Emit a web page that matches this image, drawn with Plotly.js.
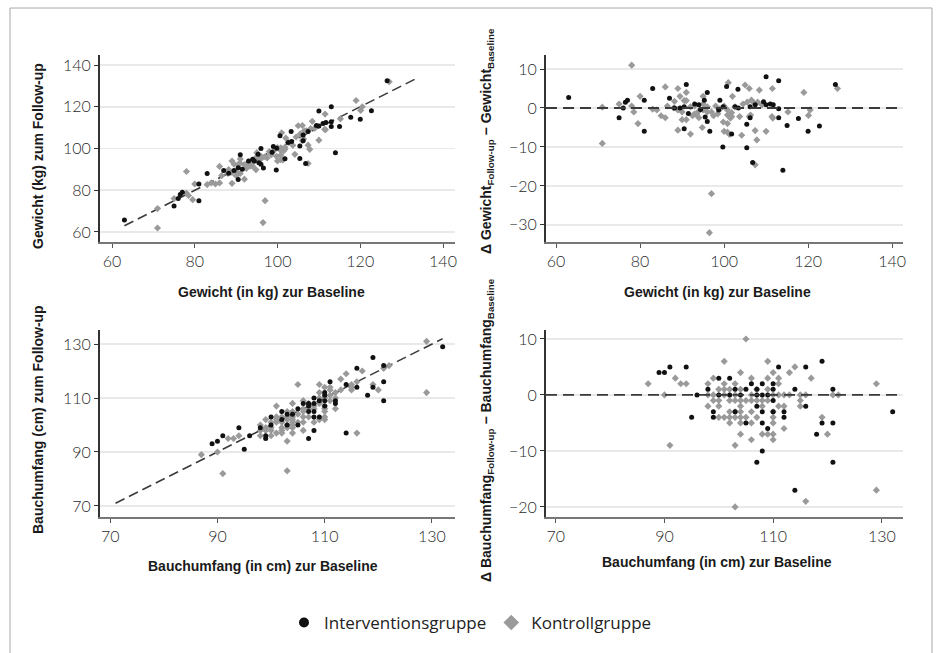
<!DOCTYPE html>
<html>
<head>
<meta charset="utf-8">
<script src="https://cdn.plot.ly/plotly-3.0.1.min.js"></script>
<style>html,body{margin:0;padding:0;background:#fff;}#chart{width:941px;height:653px;}</style>
</head>
<body>
<div id="chart"></div>
<script>
// ---- Gewicht (kg): Interventionsgruppe ----
const wIntBase = [63,75,76.5,77,76,81,81,83,87,88.2,91,89.5,90.5,90.5,91.5,93,94,94.4,95.3,96,95.5,96,96.6,99,99.7,98.7,100.6,103.3,110,113,126.5,102.6,103.4,106.2,107.4,109.4,110,111,111.7,113,105.4,101.8,105.4,106.8,114,113,115,117.7,120,122.7,106.2,99.8];
const wIntFU = [65.7,72.5,78,79,76,83,75,88,89.5,88.2,97,89.5,90.8,85.2,90.1,94,94.8,94,97.3,100,93.2,92.5,90.6,101,89.7,98.2,106.1,108.1,118,120,132.5,102.9,103.4,106.5,108.2,111,110.8,112,112.5,112.8,101.2,95.1,95.2,92.8,98,110.5,110.5,115,114,118.1,103.7,100.1];
const wIntDelta = [2.7,-2.5,1.5,2,0,2,-6,5,2.5,0,6,0,0.3,-5.3,-1.4,1,0.8,-0.4,2,4,-2.3,-3.5,-6,2,-10,-0.5,5.5,4.8,8,7,6,0.3,0,0.3,0.8,1.6,0.8,1,0.8,-0.2,-4.2,-6.7,-10.2,-14,-16,-2.5,-4.5,-2.7,-6,-4.6,-2.5,0.3];
// ---- Gewicht (kg): Kontrollgruppe ----
const wKonBase = [78,71,71,75,78,78.5,80,79.5,83,84,86,85,86,86.5,88.2,89,89.5,91,90.5,91,90,91,89,92,92.5,93.5,95,94.8,97,96.5,99.8,100,101,102,105,106,108.4,111.5,119,127,100.8,101.8,102.6,104.5,105.5,106.5,107,108,109,100.8,101.5,101.8,103.7,106,106.3,111.4,111.6,100.8,100.8,101.3,104.2,107.4,107.8,110,107.4,115.2,120.1,120.5,88,89,90,92,93,94,95,96,97,97.5,98,98.5,99,100,93,94,95,96];
const wKonFU = [89,61.9,71.2,76,78.5,77.5,83,75.5,82.7,83.5,91.4,83,83.5,87,89.9,94,92.5,95,92.4,92.9,87,88,83.3,85.3,90.5,91.7,98,89.8,75,64.5,96.2,94,107.5,105,110.9,111,113,116.5,123,132,100.3,100.6,102.9,105.5,107,108.5,108.5,109.5,109.8,99,98.9,99.6,101.5,103.8,104.5,109.2,109,96.8,94.6,94.5,97.2,101.6,99.6,104,92.8,114.2,118.2,120,88,88.5,89,92.3,93.5,93.2,94.5,96.3,96,95.5,98.5,97,98.7,100.5,91.5,91.5,96,95];
const wKonDelta = [11,-9.1,0.2,1,0.5,-1,3,-4,-0.3,-0.5,5.4,-2,-2.5,0.5,1.7,5,3,4,1.9,1.9,-3,-3,-5.7,-6.7,-2,-1.8,3,-5,-22,-32,-3.6,-6,6.5,3,5.9,5,4.6,5,4,5,-0.5,-1.2,0.3,1,1.5,2,1.5,1.5,0.8,-1.8,-2.6,-2.2,-2.2,-2.2,-1.8,-2.2,-2.6,-4,-6.2,-6.8,-7,-5.8,-8.2,-6,-14.6,-1,-1.9,-0.5,0,-0.5,-1,0.3,0.5,-0.8,-0.5,0.3,-1,-2,0.5,-1.5,-0.3,0.5,-1.5,-2.5,1,-1];
// ---- Bauchumfang (cm): Interventionsgruppe ----
const bIntBase = [89,90,91,94,95,96,98,99,99,100,100,102,102,103,103,104,105,105,106,107,107,107,107,108,108,108,108,108,109,109,110,110,110,110,111,112,112,114,114,116,116,118,119,119,121,121,121,132];
const bIntFU = [93,94,96,99,91,96,99,96,95,103,100,105,102,104,100,104,106,100,108,108,105,95,107,110,108,105,103,98,109,103,112,111,109,107,116,109,108,115,97,121,114,111,125,114,122,116,109,129];
const bIntDelta = [4,4,5,5,-4,0,1,-3,-4,3,0,3,0,1,-3,0,1,-5,2,1,-2,-12,0,2,0,-3,-5,-10,0,-6,2,1,-1,-3,5,-3,-4,1,-17,5,-2,-7,6,-5,1,-5,-12,-3];
// ---- Bauchumfang (cm): Kontrollgruppe ----
const bKonBase = [87,90,91,92,93,94,98,98,98,99,99,99,100,100,100,100,101,101,101,101,101,102,102,102,102,102,103,103,103,103,103,103,103,104,104,104,104,104,104,104,104,105,105,105,106,106,106,106,106,106,107,107,107,108,108,108,109,109,109,109,109,110,110,110,110,110,110,110,111,111,111,111,112,112,112,113,113,114,115,115,115,116,116,117,119,120,121,122,129,129];
const bKonFU = [89,90,82,95,95,96,100,98,96,102,99,98,101,99,98,96,107,103,102,101,97,103,101,99,98,97,105,103,102,100,99,94,83,108,105,103,102,101,100,99,97,115,104,101,109,106,105,103,101,98,108,106,103,107,106,101,115,112,110,108,102,114,110,107,106,105,103,102,114,113,111,109,112,110,106,117,113,119,115,114,113,116,97,120,115,113,121,122,131,112];
const bKonDelta = [2,0,-9,3,2,2,2,0,-2,3,0,-1,1,-1,-2,-4,6,2,1,0,-4,1,-1,-3,-4,-5,2,0,-1,-3,-4,-9,-20,4,1,-1,-2,-3,-4,-5,-7,10,-1,-4,3,0,-1,-3,-5,-8,1,-1,-4,-1,-2,-7,6,3,1,-1,-7,4,0,-3,-4,-5,-7,-8,3,2,0,-2,0,-2,-6,4,0,5,0,-1,-2,0,-19,3,-4,-7,0,0,2,-17];
// reference lines (identity y = x)
const identW = [63, 134];
const identB = [71, 132];
const legendNames = ["Interventionsgruppe", "Kontrollgruppe"];
const wTicks = [60, 80, 100, 120, 140];
const bTicks = [70, 90, 110, 130];
const dWTicks = [-30, -20, -10, 0, 10];
const dBTicks = [-20, -10, 0, 10];

const BLACK = '#111111', GRAY = '#9a9a9a';
const tickFont = {family: 'Lato, "Liberation Sans", sans-serif', size: 16, color: '#2a2a2a', weight: 300};
const titleFont = {family: '"Liberation Sans", Arial, sans-serif', size: 14, color: '#1a1a1a'};

function pts(x, y, xa, ya, grp) {
  const isInt = grp === 0;
  return {type: 'scatter', mode: 'markers', x: x, y: y, xaxis: xa, yaxis: ya, showlegend: false, hoverinfo: 'skip',
    marker: isInt ? {symbol: 'circle', size: 5, color: BLACK} : {symbol: 'diamond', size: 5.5, color: GRAY}};
}
const dashLine = {color: '#3a3a3a', width: 1.6, dash: '10px,5px'};
const traces = [
  {type:'scatter', mode:'lines', x: identW, y: identW, xaxis:'x', yaxis:'y', line: dashLine, showlegend:false, hoverinfo:'skip'},
  {type:'scatter', mode:'lines', x: identB, y: identB, xaxis:'x3', yaxis:'y3', line: dashLine, showlegend:false, hoverinfo:'skip'},
  pts(wKonBase, wKonFU, 'x', 'y', 1), pts(wIntBase, wIntFU, 'x', 'y', 0),
  pts(wKonBase, wKonDelta, 'x2', 'y2', 1), pts(wIntBase, wIntDelta, 'x2', 'y2', 0),
  pts(bKonBase, bKonFU, 'x3', 'y3', 1), pts(bIntBase, bIntFU, 'x3', 'y3', 0),
  pts(bKonBase, bKonDelta, 'x4', 'y4', 1), pts(bIntBase, bIntDelta, 'x4', 'y4', 0),
  {type:'scatter', mode:'markers', x:[null], y:[null], name: legendNames[0], marker:{symbol:'circle', size:10, color:BLACK}, showlegend:true, legendrank:1},
  {type:'scatter', mode:'markers', x:[null], y:[null], name: legendNames[1], marker:{symbol:'diamond', size:12, color:GRAY}, showlegend:true, legendrank:2}
];

function xax(domain, range, ticks, anchor) {
  return {domain: domain, range: range, tickvals: ticks, ticktext: ticks.map(String), anchor: anchor,
    showgrid: false, zeroline: false, showline: true, linecolor: '#777', linewidth: 1.5,
    ticks: 'outside', ticklen: 4, tickcolor: '#555', tickwidth: 1, tickfont: tickFont, fixedrange: true};
}
function yax(domain, range, ticks, anchor) {
  return {domain: domain, range: range, tickvals: ticks, ticktext: ticks.map(t => t < 0 ? '\u2212' + Math.abs(t) : String(t)), anchor: anchor,
    showgrid: true, gridcolor: '#e9e9e9', gridwidth: 1.5, zeroline: false, showline: true, linecolor: '#333', linewidth: 2,
    ticks: 'outside', ticklen: 4, tickcolor: '#333', tickwidth: 1, tickfont: tickFont, fixedrange: true};
}
const W = 941, H = 653;
const dx1 = [100/W, 455/W], dx2 = [546/W, 903/W];
const dyTop = [(H-242)/H, (H-55)/H], dyBot = [(H-517)/H, (H-330)/H];

function ann(text, xp, yp, rot) {
  return {text: text, x: xp/W, y: (H-yp)/H, xref: 'paper', yref: 'paper', showarrow: false,
    xanchor: 'center', yanchor: 'middle', textangle: rot, font: titleFont};
}

const layout = {
  width: W, height: H, margin: {l:0, r:0, t:0, b:0}, paper_bgcolor: '#fff', plot_bgcolor: '#fff',
  xaxis: xax(dx1, [57.1, 142.9], wTicks, 'y'),
  yaxis: yax(dyTop, [55.2, 144.8], wTicks, 'x'),
  xaxis2: xax(dx2, [57.6, 142.6], wTicks, 'y2'),
  yaxis2: yax(dyTop, [-34.4, 13.6], dWTicks, 'x2'),
  xaxis3: xax(dx1, [68.1, 134.3], bTicks, 'y3'),
  yaxis3: yax(dyBot, [65.9, 135.2], bTicks, 'x3'),
  xaxis4: xax(dx2, [68.2, 133.9], bTicks, 'y4'),
  yaxis4: yax(dyBot, [-21.8, 11.6], dBTicks, 'x4'),
  showlegend: true,
  legend: {orientation: 'h', x: 0.5, xanchor: 'center', y: (H-623)/H, yanchor: 'middle',
    font: {family: '"Open Sans", "Liberation Sans", sans-serif', size: 17, color: '#222'}, bgcolor: 'rgba(0,0,0,0)'},
  shapes: [
    {type:'line', xref:'x2 domain', yref:'y2', x0:0, x1:1, y0:0, y1:0, line: {color:'#3a3a3a', width:1.8, dash:'11px,6px'}},
    {type:'line', xref:'x4 domain', yref:'y4', x0:0, x1:1, y0:0, y1:0, line: {color:'#3a3a3a', width:1.8, dash:'11px,6px'}},
    {type:'rect', xref:'paper', yref:'paper', x0: 10/W, x1: 932/W, y0: -0.05, y1: (H-8)/H, line:{color:'#a8a8a8', width:1}, fillcolor:'rgba(0,0,0,0)', layer:'below'}
  ],
  annotations: [
    ann('<b>Gewicht (kg) zum Follow-up</b>', 38, 156, -90),
    ann('<b>Gewicht (in kg) zur Baseline</b>', 271, 292, 0),
    ann('<b>\u0394 Gewicht<sub>Follow-up</sub> \u2212 Gewicht<sub>Baseline</sub></b>', 487, 141, -90),
    ann('<b>Gewicht (in kg) zur Baseline</b>', 717, 292, 0),
    ann('<b>Bauchumfang (cm) zum Follow-up</b>', 38, 420, -90),
    ann('<b>Bauchumfang (in cm) zur Baseline</b>', 263, 566, 0),
    ann('<b>\u0394 Bauchumfang<sub>Follow-up</sub> \u2212 Bauchumfang<sub>Baseline</sub></b>', 487, 430, -90),
    ann('<b>Bauchumfang (in cm) zur Baseline</b>', 717, 562, 0)
  ]
};
Plotly.newPlot('chart', traces, layout, {staticPlot: true, displayModeBar: false});
</script>
</body>
</html>
